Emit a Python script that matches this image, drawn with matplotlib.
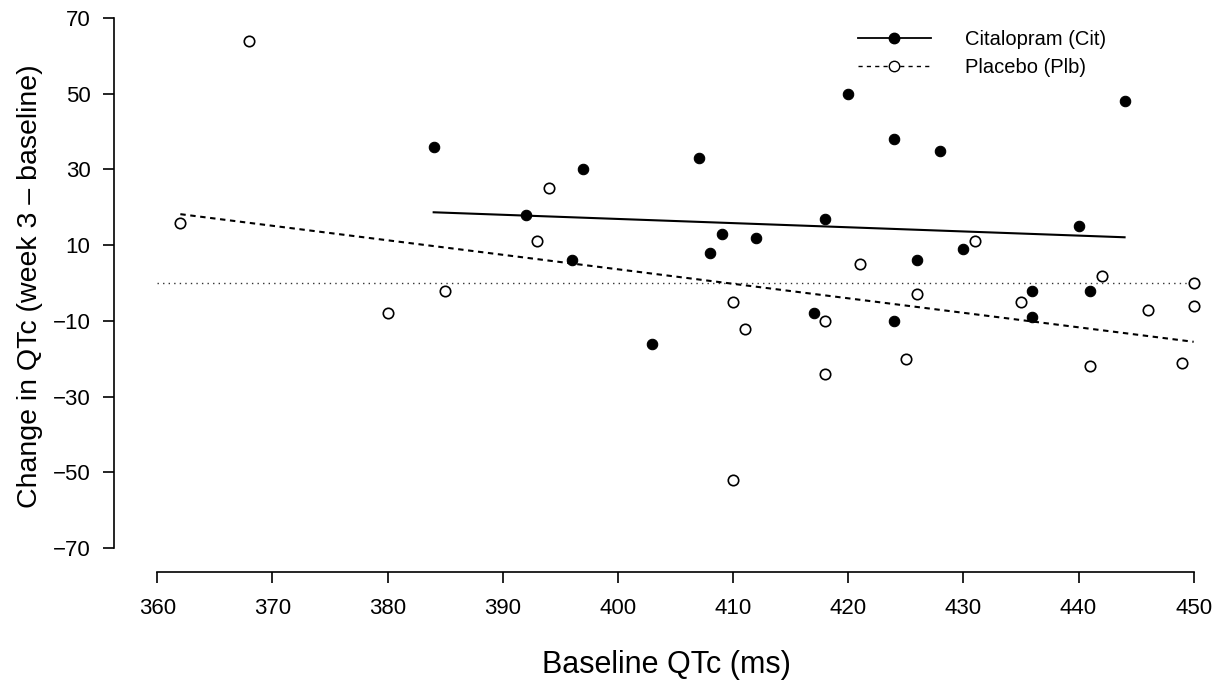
import numpy as np
import matplotlib
matplotlib.use("Agg")
import matplotlib.pyplot as plt
from matplotlib.lines import Line2D

plt.rcParams['font.family'] = ['Liberation Sans', 'DejaVu Sans']

# citalopram group (baseline QTc, change at week 3)
cit_base = [384, 392, 396, 397, 403, 407, 408, 409, 412, 417, 418,
            420, 424, 424, 426, 428, 430, 436, 436, 440, 441, 444]
cit_change = [36, 18, 6, 30, -16, 33, 8, 13, 12, -8, 17,
              50, 38, -10, 6, 35, 9, -2, -9, 15, -2, 48]

# placebo group
plb_base = [362, 368, 380, 385, 393, 394, 410, 411, 410, 418, 418,
            421, 425, 426, 431, 435, 441, 442, 446, 449, 450, 450]
plb_change = [16, 64, -8, -2, 11, 25, -5, -12, -52, -24, -10,
              5, -20, -3, 11, -5, -22, 2, -7, -21, -6, 0]

# fitted lines (end points)
cit_fit_x = [384, 444]
cit_fit_y = [18.7, 12.1]
plb_fit_x = [362, 450]
plb_fit_y = [18.2, -15.5]

xticks = np.arange(360, 451, 10)
yticks = np.arange(-70, 71, 20)

fig = plt.figure(figsize=(12.19, 6.89), dpi=100)
ax = fig.add_axes([114 / 1219, 1 - 571.7 / 689, 1105 / 1219, 571.7 / 689])

ax.plot([360, 450], [0, 0], color='#333333', lw=1.0, linestyle=(0, (1, 3)))
ax.plot(cit_fit_x, cit_fit_y, color='black', lw=1.5)
ax.plot(plb_fit_x, plb_fit_y, color='black', lw=1.5, linestyle=(0, (2.6, 2.2)))

ax.plot(cit_base, cit_change, 'o', color='black', ms=7.5, mew=0.8)
ax.plot(plb_base, plb_change, 'o', mfc='white', mec='black', ms=7.5, mew=1.2)

ax.set_xlim(356.24, 452.2)
ax.set_ylim(-76.2, 74.75)

ax.set_xticks(xticks)
ax.set_yticks(yticks)
ax.spines['top'].set_visible(False)
ax.spines['right'].set_visible(False)
ax.spines['bottom'].set_bounds(360, 450)
ax.spines['left'].set_bounds(-70, 70)
for s in ['bottom', 'left']:
    ax.spines[s].set_linewidth(1.2)
ax.tick_params(axis='x', length=8, width=1.2, pad=11, labelsize=16)
ax.tick_params(axis='y', length=8, width=1.2, pad=9, labelsize=16)

ax.set_xlabel('Baseline QTc (ms)', fontsize=22, va='center')
ax.xaxis.set_label_coords(0.5, -0.163)
ax.set_ylabel('Change in QTc (week 3 \u2013 baseline)', fontsize=20.5, va='center')
ax.yaxis.set_label_coords(-0.076, 0.5)

handles = [
    Line2D([], [], color='black', lw=1.3, marker='o', ms=7.5),
    Line2D([], [], color='black', lw=1.0, linestyle=(0, (3, 3)),
           marker='o', mfc='white', mec='black', ms=7.5),
]
ax.legend(handles, ['Citalopram (Cit)', 'Placebo (Plb)'],
          loc='upper left', bbox_to_anchor=(858 / 1219, 1 - 30 / 689),
          bbox_transform=fig.transFigure, frameon=False, fontsize=14.5,
          handlelength=3.6, handletextpad=1.7, labelspacing=0.45,
          borderpad=0, borderaxespad=0, numpoints=1)

fig.savefig('out.png', dpi=100)
